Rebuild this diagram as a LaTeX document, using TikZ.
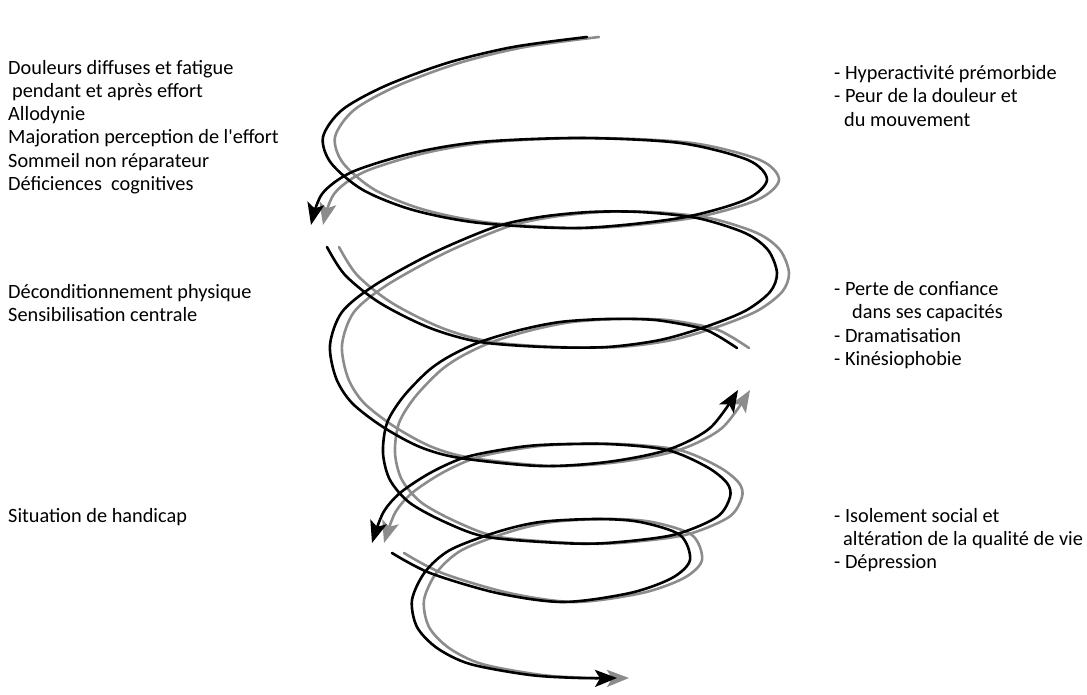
\documentclass[tikz,border=0pt]{standalone}
\usepackage{fontspec}
\setmainfont{Carlito}[Ligatures=TeXOff]
\usetikzlibrary{arrows.meta}

\begin{document}
\begin{tikzpicture}[x=1pt,y=-1pt,
    coil/.style={line width=2.6pt,line cap=round,-{Stealth[length=22pt,width=17pt,inset=5pt]}},
    note/.style={anchor=west,align=left,inner sep=0pt,font=\fontsize{20.3}{23.3}\selectfont}]
  \useasboundingbox[fill=white] (0,0) rectangle (1087,695);
  % spirale : ombre grise puis trait noir
  \foreach \dx/\c in {12pt/black!45,0pt/black}{
    \draw[coil,\c,xshift=\dx] plot[smooth] coordinates {(587,37) (513,47) (447,63) (385,86) (342,110) (323,137) (331,163) (363,190) (413,210) (480,223) (580,228) (680,218) (745,200) (767,180) (748,160) (680,143) (580,138) (480,142) (413,153) (352,172) (322,194) (311,225)};
    \draw[coil,\c,xshift=\dx] plot[smooth] coordinates {(327,247) (345,275) (380,303) (430,328) (480,342) (545,347) (607,347) (660,340) (705,327) (745,311) (770,292) (777,273) (768,250) (745,233) (697,218) (640,212) (590,212) (540,217) (495,227) (433,253) (375,285) (342,312) (330,345) (336,378) (352,403) (383,427) (420,447) (460,458) (540,466) (607,462) (667,450) (710,428) (738,390)};
    \draw[coil,\c,xshift=\dx] plot[smooth] coordinates {(737,348) (718,336) (700,328) (655,320) (607,319) (560,322) (520,330) (480,342) (450,356) (428,371) (403,397) (387,423) (383,453) (390,480) (410,503) (447,523) (487,537) (560,543) (607,543) (673,535) (717,517) (730,497) (727,483) (707,467) (667,450) (607,444) (540,445) (500,450) (463,458) (430,473) (400,493) (383,513) (372,543)};
    \draw[coil,\c,xshift=\dx] plot[smooth] coordinates {(392,553) (430,573) (497,593) (563,602) (630,593) (672,578) (690,560) (680,535) (640,522) (597,519) (540,522) (497,532) (450,550) (425,572) (412,600) (417,627) (437,648) (470,664) (530,675) (580,678) (617,678)};
  }
  % symptomes a gauche
  \node[note] (douleurs) at (8,127) {Douleurs diffuses et fatigue\\\hspace*{4pt}pendant et après effort\\Allodynie\\Majoration perception de l'effort\\Sommeil non réparateur\\Déficiences~ cognitives};
  \node[note] (decond) at (8,303) {Déconditionnement physique\\Sensibilisation centrale};
  \node[note] (handicap) at (8,517) {Situation de handicap};
  % facteurs a droite
  \node[note] (hyper) at (834,96) {- Hyperactivité prémorbide\\- Peur de la douleur et\\\hspace*{10pt}du mouvement};
  \node[note] (confiance) at (834,325) {- Perte de confiance\\\hspace*{18pt}dans ses capacités\\- Dramatisation\\- Kinésiophobie};
  \node[note] (isolement) at (834,540) {- Isolement social et\\\hspace*{9pt}altération de la qualité de vie\\- Dépression};
\end{tikzpicture}
\end{document}
